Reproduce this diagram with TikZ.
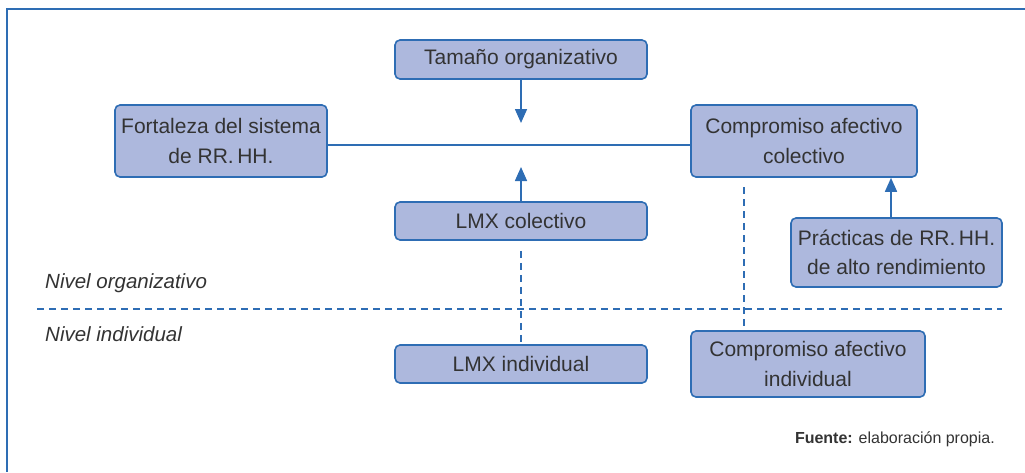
\documentclass[tikz,border=0pt]{standalone}
\usepackage{fontspec}
\setmainfont{Liberation Sans}
\usetikzlibrary{arrows.meta}
\definecolor{boxfill}{HTML}{ADB8DD}
\definecolor{boxline}{HTML}{2E6DB4}
\definecolor{txt}{HTML}{333333}
\begin{document}
\begin{tikzpicture}[x=1pt,y=-1pt,
  box/.style={draw=boxline,fill=boxfill,line width=1.6pt,rounded corners=5pt,
    inner sep=0pt,align=center,text=txt,font=\fontsize{21}{29.5}\selectfont},
  conn/.style={draw=boxline,line width=1.6pt},
  arr/.style={conn,-{Triangle[length=14pt,width=12pt]}},
  dsh/.style={conn,dash pattern=on 7pt off 5pt},
  lvl/.style={anchor=west,text=txt,font=\fontsize{20.5}{24}\itshape\selectfont,inner sep=0pt}]
\useasboundingbox (0,0) rectangle (1025,472);
\draw[boxline,line width=1.6pt] (1025,9) -- (7,9) -- (7,472);
\node[box,minimum width=252pt,minimum height=39pt] (tam) at (521,59.5) {Tamaño organizativo};
\node[box,minimum width=212pt,minimum height=72pt] (fort) at (221,141) {Fortaleza del sistema\\de RR.\,HH.};
\node[box,minimum width=226pt,minimum height=72pt] (cac) at (804,141) {Compromiso afectivo\\colectivo};
\node[box,minimum width=252pt,minimum height=38pt] (lmxc) at (521,221) {LMX colectivo};
\node[box,minimum width=211pt,minimum height=69pt] (prac) at (896.5,252.5) {Prácticas de RR.\,HH.\\de alto rendimiento};
\node[box,minimum width=252pt,minimum height=38pt] (lmxi) at (521,364) {LMX individual};
\node[box,minimum width=234pt,minimum height=66pt] (cai) at (808,364) {Compromiso afectivo\\individual};
\coordinate (tamend) at (521,123);
\coordinate (lmxend) at (521,167);
\coordinate (dtop) at (744,187);
\coordinate (dbot) at (744,327);
\coordinate (hl) at (37,309);
\coordinate (hr) at (1002,309);
\draw[conn] (fort.east |- 0,145) -- (cac.west |- 0,145);
\draw[arr] (tam.south) -- (tamend);
\draw[arr] (lmxc.north) -- (lmxend);
\draw[arr] (prac.north -| 891,0) -- (cac.south -| 891,0);
\draw[dsh] ([yshift=-10pt]lmxc.south) -- (lmxi.north);
\draw[dsh] (dtop) -- (dbot);
\draw[dsh] (hl) -- (hr);
\node[lvl] (no) at (45,283) {Nivel organizativo};
\node[lvl] (ni) at (45,334) {Nivel individual};
\node[anchor=east,inner sep=0pt,text=txt,font=\fontsize{16}{18}\selectfont] (fu) at (995,439) {\textbf{Fuente:} elaboración propia.};
\end{tikzpicture}
\end{document}
